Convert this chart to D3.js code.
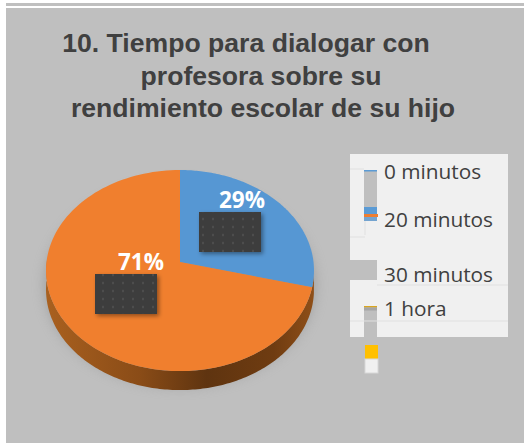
<!DOCTYPE html>
<html>
<head>
<meta charset="utf-8">
<script src="https://cdn.jsdelivr.net/npm/d3@7"></script>
<style>
html, body { margin: 0; padding: 0; background: #fff; }
svg { display: block; }
</style>
</head>
<body>
<script>
var width = 524;
var height = 443;

var categories = ["0 minutos", "20 minutos", "30 minutos", "1 hora"];
var values = [29, 71, 0, 0];
var colors = ["#5b9bd5", "#ed7d31", "#a5a5a5", "#ffc000"];
var titleLines = ["10. Tiempo para dialogar con", "profesora sobre su", "rendimiento escolar de su hijo"];

var svg = d3.select("body").append("svg").attr("width", width).attr("height", height);
var defs = svg.append("defs");

defs.append("filter").attr("id", "soft").attr("x", "-20%").attr("y", "-20%").attr("width", "140%").attr("height", "140%")
  .append("feGaussianBlur").attr("stdDeviation", 7);
var boxShadow = defs.append("filter").attr("id", "boxShadow").attr("x", "-20%").attr("y", "-20%").attr("width", "140%").attr("height", "140%");
boxShadow.append("feDropShadow").attr("dx", 2).attr("dy", 2).attr("stdDeviation", 2).attr("flood-color", "#000").attr("flood-opacity", 0.4);

var dots = defs.append("pattern").attr("id", "dots").attr("width", 10).attr("height", 8).attr("patternUnits", "userSpaceOnUse");
dots.append("rect").attr("width", 10).attr("height", 8).attr("fill", "#3d3d3d");
dots.append("circle").attr("cx", 3).attr("cy", 3).attr("r", 1.2).attr("fill", "#4d4d4d");

var wallGrad = defs.append("linearGradient").attr("id", "wall");
wallGrad.selectAll("stop").data([[0, "#a9601f"], [0.35, "#8a4c17"], [0.6, "#5f3410"], [0.85, "#6f3c11"], [1, "#8f4f18"]])
  .enter().append("stop").attr("offset", function (d) { return d[0]; }).attr("stop-color", function (d) { return d[1]; });

// Background
svg.append("rect").attr("x", 6).attr("y", 3).attr("width", width - 6).attr("height", 3).attr("fill", "#bfbfbf");
svg.append("rect").attr("x", 6).attr("y", 8).attr("width", width - 6).attr("height", height - 8).attr("fill", "#bfbfbf");

// Title
svg.append("g").selectAll("text").data(titleLines).enter().append("text")
  .attr("x", function (d, i) { return [246, 261, 263][i]; })
  .attr("y", function (d, i) { return [52, 85, 117][i]; })
  .attr("text-anchor", "middle")
  .attr("font-family", "'Liberation Sans', Arial, sans-serif")
  .attr("font-weight", "bold")
  .attr("font-size", 26.6)
  .attr("fill", "#404040")
  .text(function (d) { return d; });

// Pie, tilted with a small perspective so the apex sits above the ellipse centre
var cx = 180, cy = 262, rx = 133.5, ry = 99.8, k = 0.085, depth = 19;

function project(a, r) {
  var x = Math.sin(a) * r;
  var y = -Math.cos(a) * r;
  var w = 1 - k * y;
  return [cx + rx * x / w, cy + ry * y / w];
}

var line = d3.line();
var pie = d3.pie().sort(null);
var arcs = pie(values);

function slicePath(d) {
  var pts = [project(0, 0)];
  var steps = d3.range(0, 121);
  steps.forEach(function (s) {
    pts.push(project(d.startAngle + (d.endAngle - d.startAngle) * s / 120, 1));
  });
  return line(pts) + "Z";
}

var rim = d3.range(0, 361).map(function (s) { return project(s * Math.PI / 180, 1); });
var rimFront = d3.range(97, 272).map(function (s) { return project(s * Math.PI / 180, 1); });
var wallPts = rimFront.concat(rimFront.slice().reverse().map(function (p) { return [p[0], p[1] + depth]; }));

svg.append("path").attr("d", line(rim) + "Z").attr("transform", "translate(0,14)")
  .attr("fill", "#858585").attr("opacity", 0.65).attr("filter", "url(#soft)");
svg.append("path").attr("d", line(wallPts) + "Z").attr("fill", "url(#wall)");
svg.append("g").selectAll("path").data(arcs).enter().append("path")
  .filter(function (d) { return d.value > 0; })
  .attr("d", slicePath)
  .attr("fill", function (d, i) { return i === 0 ? "#5697d3" : "#f07f2e"; });

// Data labels
var labelBoxes = [[199, 212], [95, 274]];
var labelText = [[242, 208], [141, 270]];
var shown = values.filter(function (v) { return v > 0; });

svg.append("g").selectAll("rect").data(shown).enter().append("rect")
  .attr("x", function (d, i) { return labelBoxes[i][0]; })
  .attr("y", function (d, i) { return labelBoxes[i][1]; })
  .attr("width", 62).attr("height", 40)
  .attr("fill", "url(#dots)").attr("filter", "url(#boxShadow)");

svg.append("g").selectAll("text").data(shown).enter().append("text")
  .attr("x", function (d, i) { return labelText[i][0]; })
  .attr("y", function (d, i) { return labelText[i][1]; })
  .attr("text-anchor", "middle")
  .attr("font-family", "Open Sans")
  .attr("font-weight", "bold")
  .attr("font-size", 22.5)
  .attr("fill", "#fff")
  .text(function (d) { return d + "%"; });

// Legend panel, with its broken key strip
var panel = "#f0f0f0", gap = "#bfbfbf", rule = "#e0e0e0";
svg.append("rect").attr("x", 350).attr("y", 154).attr("width", 158).attr("height", 183).attr("fill", panel);
svg.append("rect").attr("x", 350).attr("y", 260).attr("width", 27).attr("height", 20).attr("fill", gap);
svg.append("rect").attr("x", 364).attr("y", 170).attr("width", 13).attr("height", 51).attr("fill", gap);
svg.append("rect").attr("x", 364).attr("y", 306).attr("width", 13).attr("height", 31).attr("fill", gap);

svg.append("rect").attr("x", 364).attr("y", 170).attr("width", 13).attr("height", 1.5).attr("fill", colors[0]);
svg.append("rect").attr("x", 364).attr("y", 207).attr("width", 13).attr("height", 7).attr("fill", colors[0]);
svg.append("rect").attr("x", 364).attr("y", 214).attr("width", 14).attr("height", 3).attr("fill", colors[1]);
svg.append("rect").attr("x", 364).attr("y", 217).attr("width", 13).attr("height", 4).attr("fill", colors[0]).attr("opacity", 0.75);
svg.append("rect").attr("x", 364).attr("y", 306).attr("width", 13).attr("height", 1.5).attr("fill", "#d9a520");
svg.append("rect").attr("x", 364).attr("y", 307.5).attr("width", 13).attr("height", 3).attr("fill", colors[2]);
svg.append("rect").attr("x", 365).attr("y", 345).attr("width", 13).attr("height", 14).attr("fill", colors[3]);
svg.append("rect").attr("x", 365).attr("y", 359).attr("width", 13).attr("height", 14).attr("fill", panel)
  .attr("stroke", "#d8d8d8").attr("stroke-width", 1);

var rules = [[350, 169, 364, 169], [350, 237, 365, 237], [365, 221, 365, 235], [377, 285, 508, 285], [350, 321, 508, 321]];
svg.append("g").selectAll("line").data(rules).enter().append("line")
  .attr("x1", function (d) { return d[0]; }).attr("y1", function (d) { return d[1]; })
  .attr("x2", function (d) { return d[2]; }).attr("y2", function (d) { return d[3]; })
  .attr("stroke", rule).attr("stroke-width", 1);

var legendY = [179, 227, 282, 316];
svg.append("g").selectAll("text").data(categories).enter().append("text")
  .attr("x", 384)
  .attr("y", function (d, i) { return legendY[i]; })
  .attr("font-family", "Open Sans")
  .attr("font-size", 20.8)
  .attr("fill", "#404040")
  .text(function (d) { return d; });
</script>
</body>
</html>
